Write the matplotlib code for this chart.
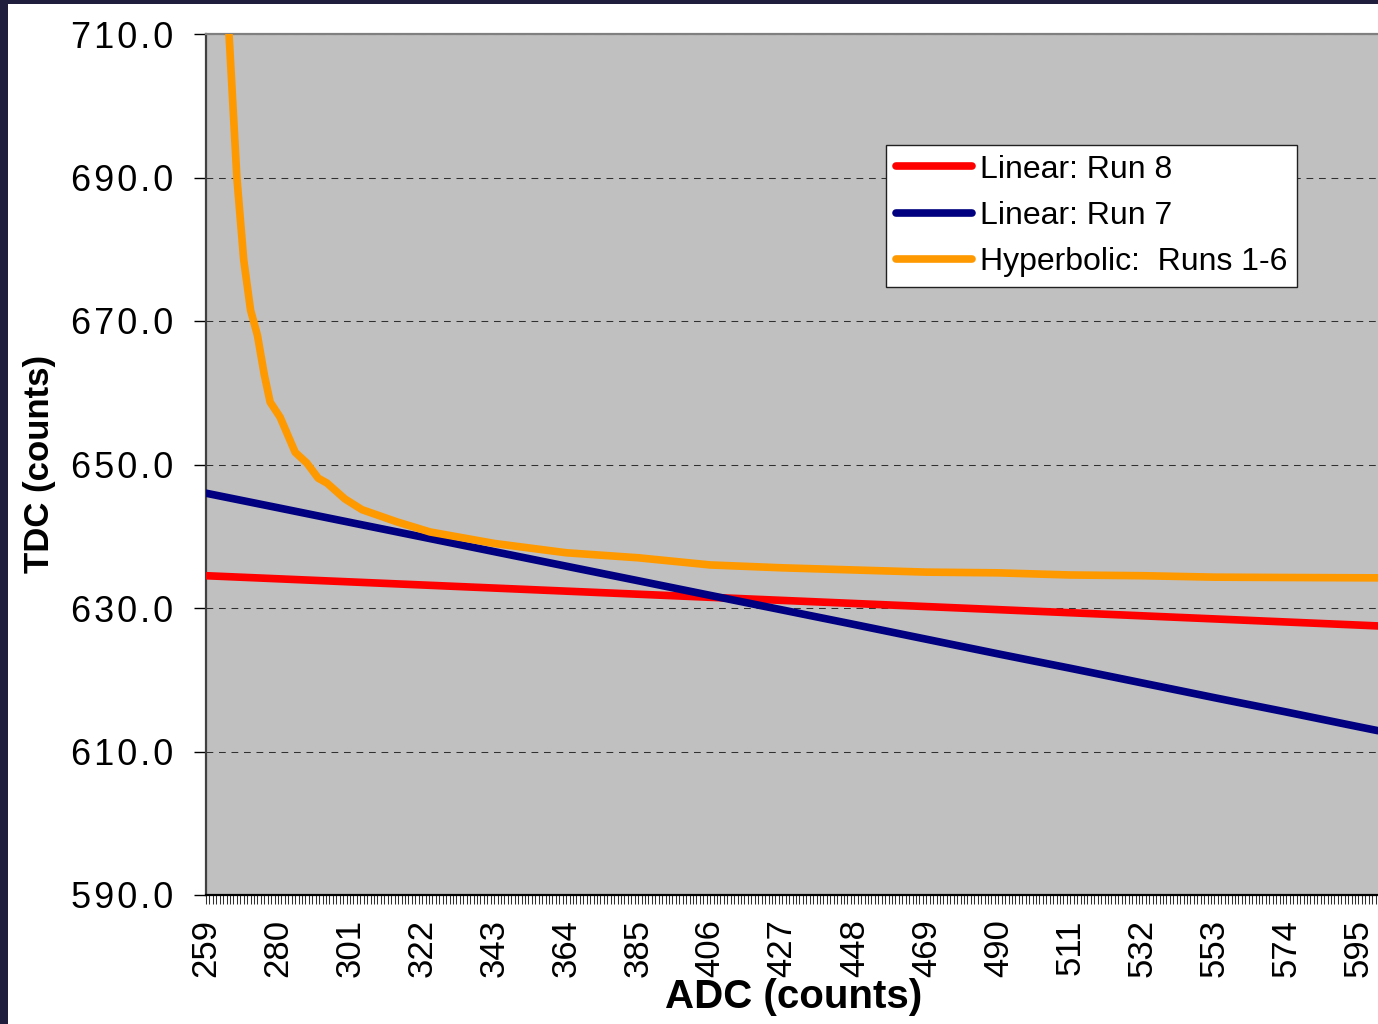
import numpy as np
import matplotlib
matplotlib.use("Agg")
import matplotlib.pyplot as plt
from matplotlib.patches import Rectangle

# ADC category labels shown on the x axis
adc_ticks = [259, 280, 301, 322, 343, 364, 385, 406, 427, 448, 469, 490, 511,
             532, 553, 574, 595]

# Linear calibrations (TDC vs ADC)
adc_lin = [259, 280, 301, 322, 343, 364, 385, 406, 427, 448, 469, 490, 511,
           532, 553, 574, 595, 600.7]
run8 = [634.5, 634.07, 633.64, 633.21, 632.78, 632.35, 631.92, 631.49, 631.06,
        630.63, 630.2, 629.77, 629.34, 628.91, 628.48, 628.05, 627.62, 627.5]
run7 = [646.0, 643.97, 641.93, 639.9, 637.86, 635.83, 633.8, 631.76, 629.73,
        627.7, 625.65, 623.6, 621.6, 619.55, 617.5, 615.5, 613.45, 612.9]

# Hyperbolic calibration (runs 1-6)
adc_hyp = [264, 266, 268, 270, 272, 274, 276, 277.7, 280.6, 285, 288.4, 291.7,
           294.3, 299.5, 304.5, 314.7, 324.3, 343, 364, 385, 406, 427, 448,
           469, 490, 511, 532, 553, 574, 600.7]
runs1_6 = [724.0, 707.5, 690.0, 678.5, 671.5, 668.0, 662.5, 658.7, 656.6,
           651.7, 650.2, 648.1, 647.4, 645.2, 643.7, 642.0, 640.6, 639.0,
           637.7, 637.0, 636.0, 635.6, 635.3, 635.0, 634.9, 634.6, 634.5,
           634.3, 634.25, 634.2]

y_ticks = [590, 610, 630, 650, 670, 690, 710]

plt.rcParams['font.family'] = ['Liberation Sans', 'DejaVu Sans']

W, H = 1378, 1024
fig = plt.figure(figsize=(W / 100, H / 100), dpi=100, facecolor='white')

# dark slide frame along the top and left edges
frame_col = '#1f1f3d'
fig.patches.append(Rectangle((0, 0), 8 / W, 1, transform=fig.transFigure,
                             facecolor=frame_col, edgecolor='none'))
fig.patches.append(Rectangle((0, 1 - 4 / H), 1, 4 / H, transform=fig.transFigure,
                             facecolor=frame_col, edgecolor='none'))

left, right, top, bottom = 206, 1378, 34, 895
ax = fig.add_axes([left / W, (H - bottom) / H, (right - left) / W, (bottom - top) / H])
ax.set_facecolor('#c0c0c0')
ax.set_xlim(259, 600.7)
ax.set_ylim(590, 710)

lw = 5.5
ax.plot(adc_lin, run8, color='#ff0000', lw=lw, solid_capstyle='round',
        solid_joinstyle='round', label='Linear: Run 8', zorder=3)
ax.plot(adc_lin, run7, color='#000080', lw=lw, solid_capstyle='round',
        solid_joinstyle='round', label='Linear: Run 7', zorder=4)
ax.plot(adc_hyp, runs1_6, color='#ff9900', lw=lw, solid_capstyle='round',
        solid_joinstyle='round', label='Hyperbolic:  Runs 1-6', zorder=5)

# dashed horizontal gridlines
ax.set_axisbelow(True)
ax.set_yticks(y_ticks)
ax.yaxis.grid(True, color='#303030', lw=0.75, linestyle=(0, (6.5, 5.5)))
ax.xaxis.grid(False)

ax.set_yticklabels(['\u200a'.join(f'{v:.1f}') for v in y_ticks])
ax.tick_params(axis='y', direction='out', length=8.6, width=1.0, color='black',
               labelsize=26, pad=15)

ax.set_xticks(adc_ticks)
ax.set_xticks(np.arange(259, 601), minor=True)
ax.set_xticklabels([str(v) for v in adc_ticks], rotation=90)
ax.tick_params(axis='x', which='both', direction='out', length=6.5, width=0.75,
               color='#303030', labelsize=25, pad=11)

ax.spines['right'].set_visible(False)
ax.spines['top'].set_color('#808080')
ax.spines['top'].set_linewidth(1.6)
ax.spines['left'].set_color('#404040')
ax.spines['left'].set_linewidth(1.6)
ax.spines['bottom'].set_color('black')
ax.spines['bottom'].set_linewidth(1.6)

fig.text(40 / W, 1 - 464 / H, 'TDC (counts)', rotation=90, ha='center',
         va='center', fontsize=25, fontweight='bold')
fig.text(794 / W, 1 - 1008 / H, 'ADC (counts)', ha='center', va='baseline',
         fontsize=29, fontweight='bold')

leg = ax.legend(loc='upper left', bbox_to_anchor=(886 / W, 1 - 145 / H),
                bbox_transform=fig.transFigure, fontsize=23, frameon=True,
                fancybox=False, framealpha=1, facecolor='white',
                edgecolor='#202020', borderpad=0.3, borderaxespad=0,
                handlelength=2.4, handletextpad=0.25, labelspacing=0.51)
leg.get_frame().set_linewidth(1.0)

fig.savefig('out.png', dpi=100, facecolor=fig.get_facecolor())
